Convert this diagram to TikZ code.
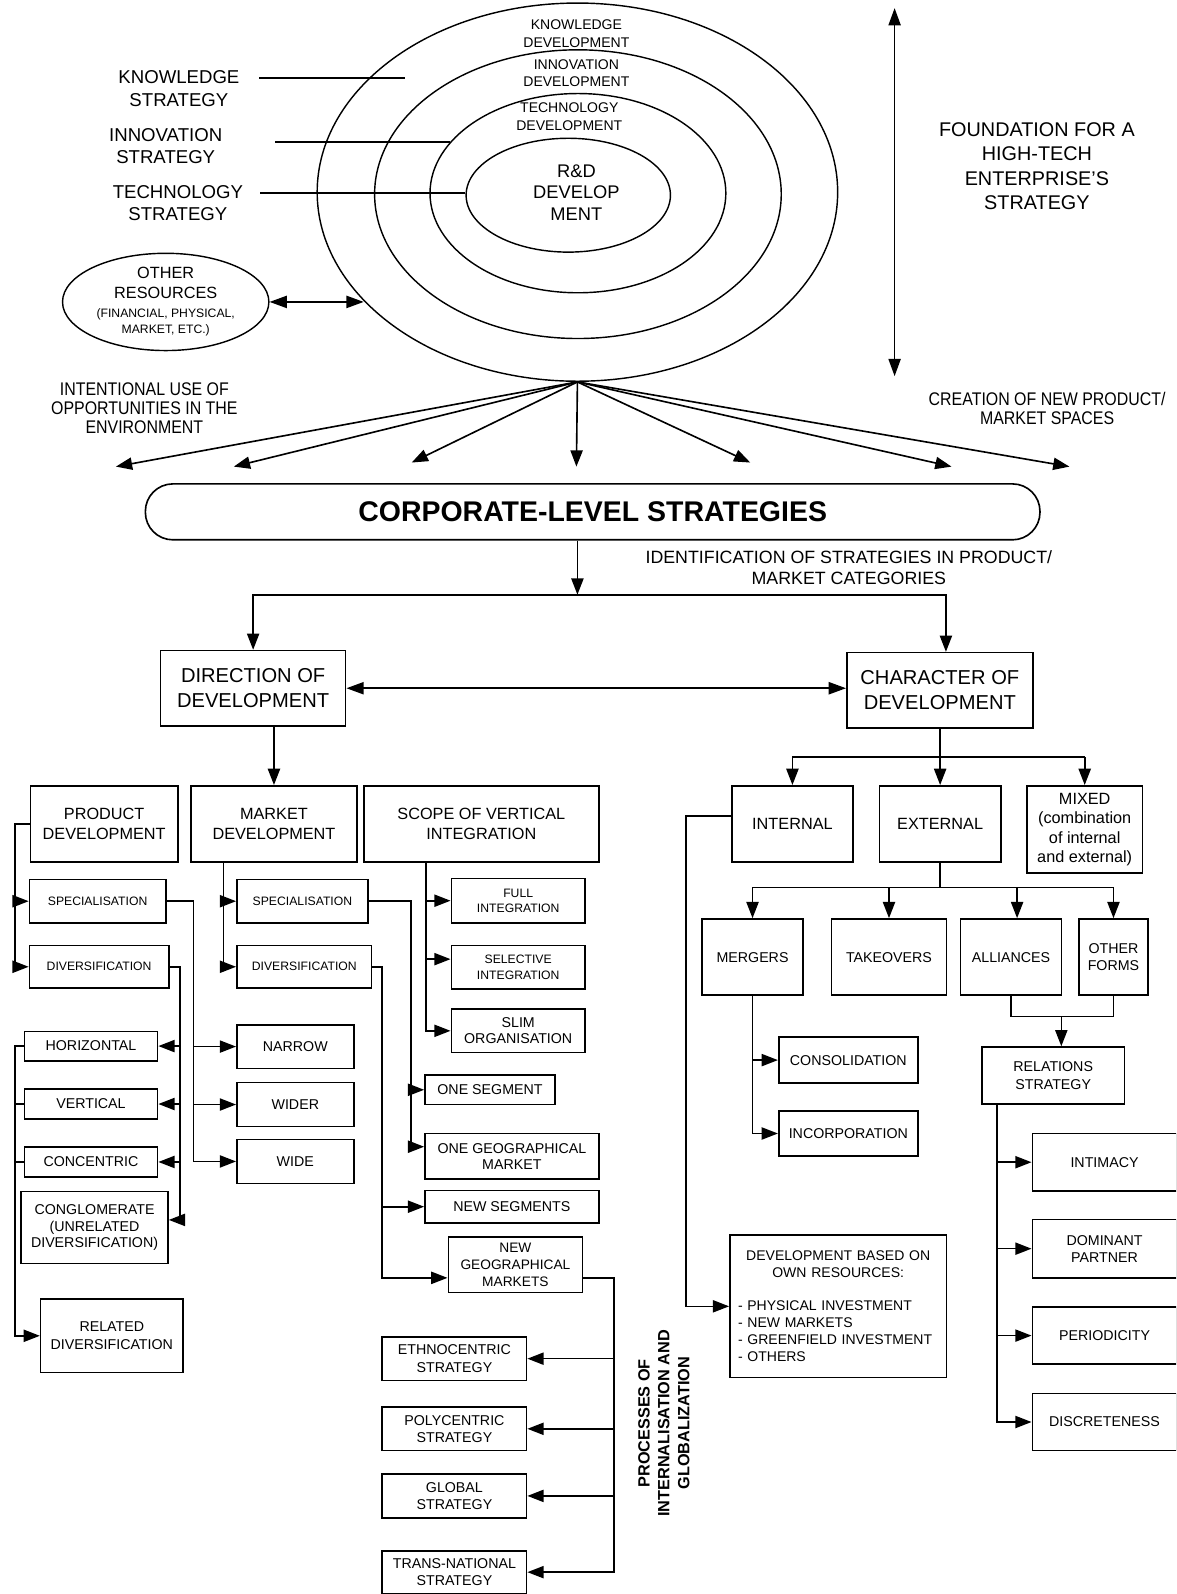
\documentclass[tikz,border=0pt]{standalone}
\usepackage{fontspec}
\setmainfont{Liberation Sans}
\newfontfamily\narrowfont[FakeStretch=0.87]{Liberation Sans}
\usetikzlibrary{arrows.meta,shapes.geometric,calc}
\newcommand{\setfs}[2]{\fontsize{#1}{#2}\selectfont}

\begin{document}
\begin{tikzpicture}[x=1pt,y=1pt,yscale=-1,xscale=1,
	box/.style={draw,line width=1.6pt,inner sep=0pt,align=center},
	ell/.style={draw,ellipse,line width=1.4pt,inner sep=0pt,align=center},
	conn/.style={line width=1.6pt},
	arr/.style={line width=1.6pt,-{Triangle[length=16pt,width=12pt]}},
	dblarr/.style={line width=1.6pt,{Triangle[length=17pt,width=12pt]}-{Triangle[length=17pt,width=12pt]}},
	txt/.style={inner sep=0pt,align=center},
	lbltext/.style={txt,font=\setfs{18.3}{22}},
	elltext/.style={txt,font=\setfs{13.8}{17.5}},
	rdtext/.style={txt,font=\setfs{18}{21.5}},
	fndtext/.style={txt,font=\setfs{19.5}{23.7}},
	sidetext/.style={txt,font=\narrowfont\setfs{18}{18.7}},
	idtext/.style={txt,font=\setfs{17.5}{21}},
	corptext/.style={font=\setfs{28}{32}\bfseries},
	headtext/.style={font=\setfs{19.8}{25}},
	midtext/.style={font=\setfs{16}{20}},
	mixtext/.style={font=\setfs{16}{19.3}},
	smalltext/.style={font=\setfs{12}{15}},
	boxtext/.style={font=\setfs{14}{17}},
	devtext/.style={font=\setfs{13.8}{17}},
	proctext/.style={txt,font=\setfs{16}{19.5}\bfseries}]
	\useasboundingbox (0,0) rectangle (1157,1568);
	\clip (0,0) rectangle (1157,1568);

	\node [ell, minimum width=512, minimum height=372] (knowell) at (568,189) {};
	\node [ell, minimum width=400, minimum height=284] (innoell) at (568.5,191) {};
	\node [ell, minimum width=291, minimum height=196] (techell) at (568.5,190) {};
	\node [ell, minimum width=201, minimum height=112] (rdell) at (559,192) {};
	\node [elltext] (knowband) at (567,33) {KNOWLEDGE\\DEVELOPMENT};
	\node [elltext] (innoband) at (567,72) {INNOVATION\\DEVELOPMENT};
	\node [elltext] (techband) at (560,114.5) {TECHNOLOGY\\DEVELOPMENT};
	\node [rdtext] (rdcore) at (567,189.5) {R\&D\\DEVELOP\\MENT};

	\node [lbltext] (knowstrat) at (176,87) {KNOWLEDGE\\STRATEGY};
	\node [lbltext] (innostrat) at (163,144) {INNOVATION\\STRATEGY};
	\node [lbltext] (techstrat) at (175,200) {TECHNOLOGY\\STRATEGY};
	\coordinate (knowstart) at (255,77);
	\coordinate (knowend) at (398,77);
	\coordinate (innostart) at (271,139.5);
	\coordinate (innoend) at (443,139.5);
	\coordinate (techstart) at (256,190);
	\draw [conn] (knowstart) -- (knowend);
	\draw [conn] (innostart) -- (innoend);
	\draw [conn] (techstart) -- (techstart -| rdell.west);

	\node [ell, minimum width=203, minimum height=84, font=\setfs{16}{19}] (otherres) at (163,297) {OTHER\\RESOURCES\\{\setfs{12}{16}(FINANCIAL, PHYSICAL,}\\[-3pt]{\setfs{12}{16}MARKET, ETC.)}};
	\coordinate (knowhit) at (knowell.207.7);
	\draw [dblarr] (otherres.east) -- (otherres.east -| knowhit);

	\coordinate (foundtop) at (880,8);
	\coordinate (foundbot) at (880,370);
	\draw [dblarr] (foundtop) -- (foundbot);
	\node [fndtext] (foundation) at (1020,163.5) {FOUNDATION FOR A\\HIGH-TECH\\ENTERPRISE'S\\STRATEGY};

	\node [sidetext] (intuse) at (142,402) {INTENTIONAL USE OF\\OPPORTUNITIES IN THE\\ENVIRONMENT};
	\node [sidetext] (creation) at (1030,402) {CREATION OF NEW PRODUCT/\\MARKET SPACES};
	\foreach \fx/\fy [count=\i] in {114/459,230/459,405/455,567/459,738/455,936/459,1052/459}
		{\coordinate (fan\i) at (\fx,\fy);
		\draw [arr] (knowell.south) -- (fan\i);}

	\node [box, corptext, rounded corners=27, minimum width=880, minimum height=55] (corp) at (583,503.5) {CORPORATE-LEVEL STRATEGIES};
	\node [idtext] (ident) at (835,558.5) {IDENTIFICATION OF STRATEGIES IN PRODUCT/\\MARKET CATEGORIES};
	\node [box, headtext, minimum width=182, minimum height=74] (dirdev) at (249,677) {DIRECTION OF\\DEVELOPMENT};
	\node [box, headtext, minimum width=183, minimum height=74] (chardev) at (924.5,679) {CHARACTER OF\\DEVELOPMENT};
	\coordinate (split) at (568,585);
	\draw [arr] (corp.south -| split) -- (split);
	\draw [arr] (split) -| (dirdev.north);
	\draw [arr] (split) -| ($(chardev.north)+(6,0)$);
	\draw [dblarr] (dirdev.east) -- (dirdev.east -| chardev.west);

	\node [box, midtext, minimum width=145, minimum height=75] (prod) at (102.5,810.5) {PRODUCT\\DEVELOPMENT};
	\node [box, midtext, minimum width=163, minimum height=75] (mkt) at (269.5,810.5) {MARKET\\DEVELOPMENT};
	\node [box, midtext, minimum width=231, minimum height=75] (scope) at (473.5,810.5) {SCOPE OF VERTICAL\\INTEGRATION};
	\draw [arr] (dirdev.south -| mkt.north) -- (mkt.north);

	\node [box, smalltext, minimum width=134, minimum height=43] (pspec) at (96,886.5) {SPECIALISATION};
	\node [box, smalltext, minimum width=137, minimum height=42] (pdiv) at (97.5,951) {DIVERSIFICATION};
	\node [box, boxtext, minimum width=131, minimum height=29] (horiz) at (89.5,1029) {HORIZONTAL};
	\node [box, boxtext, minimum width=131, minimum height=29] (vert) at (89.5,1086) {VERTICAL};
	\node [box, boxtext, minimum width=131, minimum height=29] (conc) at (89.5,1143) {CONCENTRIC};
	\node [box, boxtext, font=\setfs{14}{16.5}, minimum width=144.5, minimum height=71] (conglom) at (93,1207.5) {CONGLOMERATE\\(UNRELATED\\DIVERSIFICATION)};
	\node [box, boxtext, minimum width=140, minimum height=72] (related) at (110,1314) {RELATED\\DIVERSIFICATION};
	\node [box, boxtext, minimum width=115, minimum height=43] (narrow) at (290.5,1029.5) {NARROW};
	\node [box, boxtext, minimum width=115, minimum height=43] (wider) at (290.5,1086.5) {WIDER};
	\node [box, boxtext, minimum width=115, minimum height=43] (wide) at (290.5,1142.5) {WIDE};
	\coordinate (pbus) at (15,0);
	\draw [arr] (prod.west) -| (pbus |- pdiv.west) -- (pdiv.west);
	\draw [arr] (pbus |- pspec.west) -- (pspec.west);
	\draw [arr] (horiz.west) -| (pbus |- related.west) -- (related.west);
	\draw [conn] (vert.west) -- (pbus |- vert.west);
	\draw [conn] (conc.west) -- (pbus |- conc.west);
	\coordinate (sbus) at (190.5,0);
	\draw [arr] (pspec.east) -| (sbus |- wide.west) -- (wide.west);
	\draw [arr] (sbus |- narrow.west) -- (narrow.west);
	\draw [arr] (sbus |- wider.west) -- (wider.west);
	\coordinate (dbus) at (177,0);
	\coordinate (congin) at ($(conglom.east)+(0,-7.5)$);
	\draw [arr] (pdiv.east) -| (dbus |- congin) -- (congin);
	\foreach \t in {horiz,vert,conc} \draw [arr] (dbus |- \t.east) -- (\t.east);

	\node [box, smalltext, minimum width=129, minimum height=43] (mspec) at (297.5,886.5) {SPECIALISATION};
	\node [box, smalltext, minimum width=132.6, minimum height=42] (mdiv) at (299.3,951) {DIVERSIFICATION};
	\node [box, boxtext, minimum width=128, minimum height=29] (oneseg) at (482,1072) {ONE SEGMENT};
	\node [box, boxtext, font=\setfs{14}{16}, minimum width=171, minimum height=45] (onegeo) at (503.5,1137.5) {ONE GEOGRAPHICAL\\MARKET};
	\node [box, boxtext, minimum width=171, minimum height=32] (newseg) at (503.5,1187) {NEW SEGMENTS};
	\node [box, font=\setfs{13.5}{16.5}, minimum width=132, minimum height=55] (newgeo) at (507,1244) {NEW\\GEOGRAPHICAL\\MARKETS};
	\coordinate (mbus) at (220,0);
	\draw [arr] (mkt.south -| mbus) -- (mbus |- mdiv.west) -- (mdiv.west);
	\draw [arr] (mbus |- mspec.west) -- (mspec.west);
	\coordinate (msbus) at (404.5,0);
	\coordinate (onegeoin) at ($(onegeo.west)+(0,-9.5)$);
	\draw [arr] (mspec.east) -| (msbus |- onegeoin) -- (onegeoin);
	\draw [arr] (msbus |- oneseg.west) -- (oneseg.west);
	\coordinate (mdbus) at (376,0);
	\coordinate (newgeoin) at ($(newgeo.west)+(0,13)$);
	\draw [arr] (mdiv.east) -| (mdbus |- newgeoin) -- (newgeoin);
	\draw [arr] (mdbus |- newseg.west) -- (newseg.west);

	\node [box, boxtext, minimum width=142, minimum height=43] (ethno) at (447,1336.5) {ETHNOCENTRIC\\STRATEGY};
	\node [box, boxtext, minimum width=142, minimum height=43] (poly) at (447,1405.5) {POLYCENTRIC\\STRATEGY};
	\node [box, boxtext, minimum width=142, minimum height=43] (glob) at (447,1471.5) {GLOBAL\\STRATEGY};
	\node [box, boxtext, minimum width=142, minimum height=42] (trans) at (447,1546.5) {TRANS-NATIONAL\\STRATEGY};
	\coordinate (gbus) at (604,0);
	\coordinate (newgeoout) at ($(newgeo.east)+(0,13)$);
	\draw [arr] (newgeoout) -| (gbus |- trans.east) -- (trans.east);
	\foreach \t in {ethno,poly,glob} \draw [arr] (gbus |- \t.east) -- (\t.east);
	\node [proctext, rotate=90] (procglob) at (653,1400) {PROCESSES OF\\INTERNALISATION AND\\GLOBALIZATION};

	\node [box, smalltext, minimum width=131.5, minimum height=44] (full) at (509.75,886) {FULL\\INTEGRATION};
	\node [box, smalltext, minimum width=131.5, minimum height=43] (selective) at (509.75,951.5) {SELECTIVE\\INTEGRATION};
	\node [box, font=\setfs{14}{16}, minimum width=131.5, minimum height=43] (slim) at (509.75,1014) {SLIM\\ORGANISATION};
	\coordinate (vbus) at (419,0);
	\draw [arr] (scope.south -| vbus) -- (vbus |- slim.west) -- (slim.west);
	\draw [arr] (vbus |- full.west) -- (full.west);
	\coordinate (selin) at ($(selective.west)+(0,-8)$);
	\draw [arr] (vbus |- selin) -- (selin);

	\node [box, midtext, minimum width=119.5, minimum height=75] (internal) at (779.5,810.5) {INTERNAL};
	\node [box, midtext, minimum width=119.5, minimum height=75] (external) at (924.8,810.5) {EXTERNAL};
	\node [box, mixtext, minimum width=113.5, minimum height=86] (mixed) at (1067,816) {MIXED\\(combination\\of internal\\and external)};
	\coordinate (cbus) at (0,744.5);
	\draw [conn] (chardev.south) -- (chardev.south |- cbus);
	\draw [conn] (internal.north |- cbus) -- (mixed.north |- cbus);
	\foreach \t in {internal,external,mixed} \draw [arr] (\t.north |- cbus) -- (\t.north);

	\node [box, devtext, minimum width=213, minimum height=140, text width=197, align=left] (ownres) at (824.5,1285) {{\centering DEVELOPMENT BASED ON\\OWN RESOURCES:\par}\vspace{15pt}- PHYSICAL INVESTMENT\\- NEW MARKETS\\- GREENFIELD INVESTMENT\\- OTHERS};
	\coordinate (ibus) at (675,0);
	\draw [arr] ($(internal.west)+(0,-8)$) -| (ibus |- ownres.west) -- (ownres.west);

	\node [box, boxtext, minimum width=99.5, minimum height=75] (mergers) at (740.25,941.5) {MERGERS};
	\node [box, boxtext, minimum width=113, minimum height=75] (takeovers) at (874.5,941.5) {TAKEOVERS};
	\node [box, boxtext, minimum width=99, minimum height=75] (alliances) at (994.5,941.5) {ALLIANCES};
	\node [box, boxtext, minimum width=67.4, minimum height=75] (otherforms) at (1095.3,941.5) {OTHER\\FORMS};
	\coordinate (ebus) at (0,873);
	\draw [conn] (external.south) -- (external.south |- ebus);
	\draw [conn] (mergers.north |- ebus) -- (otherforms.north |- ebus);
	\foreach \t in {mergers,takeovers,otherforms} \draw [arr] (\t.north |- ebus) -- (\t.north);
	\coordinate (allin) at ($(alliances.north)+(6,0)$);
	\draw [arr] (allin |- ebus) -- (allin);

	\node [box, boxtext, minimum width=137, minimum height=45.6] (conso) at (834.5,1042.8) {CONSOLIDATION};
	\node [box, boxtext, minimum width=137, minimum height=44] (incorp) at (834.5,1115) {INCORPORATION};
	\draw [arr] (mergers.south) |- (incorp.west);
	\draw [arr] (mergers.south |- conso.west) -- (conso.west);

	\node [box, boxtext, font=\setfs{14}{18}, minimum width=140, minimum height=56] (relations) at (1036,1058) {RELATIONS\\STRATEGY};
	\coordinate (abus) at (0,1000);
	\draw [conn] (alliances.south) -- (alliances.south |- abus) -- (otherforms.south |- abus) -- (otherforms.south);
	\coordinate (relin) at ($(relations.north)+(8,0)$);
	\draw [arr] (relin |- abus) -- (relin);

	\node [box, boxtext, minimum width=142, minimum height=56.5] (intimacy) at (1086.5,1143.25) {INTIMACY};
	\node [box, boxtext, minimum width=142, minimum height=57.4] (dominant) at (1086.5,1228.3) {DOMINANT\\PARTNER};
	\node [box, boxtext, minimum width=142, minimum height=56.4] (periodic) at (1086.5,1313.8) {PERIODICITY};
	\node [box, boxtext, minimum width=142, minimum height=56.4] (discrete) at (1086.5,1398.8) {DISCRETENESS};
	\coordinate (rbus) at (981,0);
	\draw [arr] (relations.south -| rbus) |- (discrete.west);
	\foreach \t in {intimacy,dominant,periodic} \draw [arr] (rbus |- \t.west) -- (\t.west);
\end{tikzpicture}
\end{document}
